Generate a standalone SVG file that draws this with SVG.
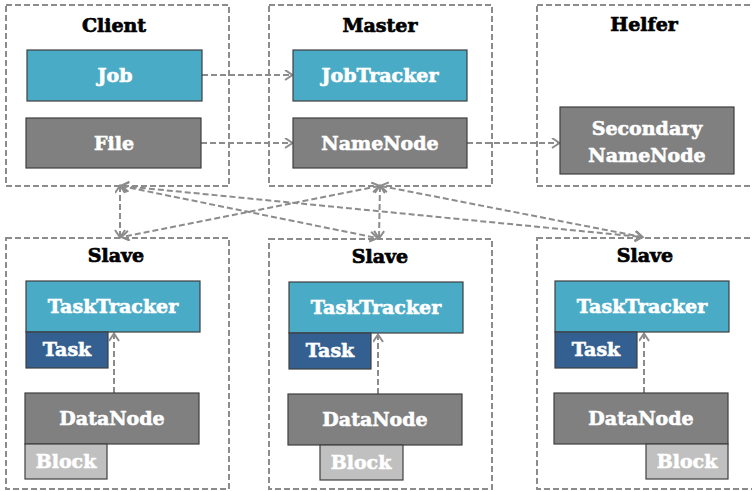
<svg xmlns="http://www.w3.org/2000/svg" width="752" height="491" viewBox="0 0 752 491">
  <style>
    .group { fill: none; stroke: #8c8c8c; stroke-width: 2; stroke-dasharray: 6 3; }
    .title { font-family: "DejaVu Serif", "Liberation Serif", serif; font-weight: bold; font-size: 19px; fill: #000; stroke: #000; stroke-width: 0.7; text-anchor: middle; }
    .node { stroke: #3f3f3f; stroke-width: 1.2; }
    .label { font-family: "DejaVu Serif", "Liberation Serif", serif; font-weight: bold; font-size: 19px; fill: #fff; stroke: #fff; stroke-width: 0.6; text-anchor: middle; }
    .teal { fill: #4aabc6; }
    .gray { fill: #808080; }
    .blue { fill: #346091; }
    .light { fill: #c0c0c0; }
    .link { fill: none; stroke: #8c8c8c; stroke-width: 2; stroke-dasharray: 6 3; }
  </style>
  <defs>
    <marker id="chev" markerUnits="userSpaceOnUse" markerWidth="12" markerHeight="12" refX="8" refY="5.5" orient="auto-start-reverse">
      <path d="M1,0.5 L8.5,5.5 L1,10.5" fill="none" stroke="#8c8c8c" stroke-width="2"/>
    </marker>
  </defs>
  <rect width="752" height="491" fill="#fff"/>

  <!-- dashed group frames -->
  <g id="client">
    <rect class="group" x="6" y="5" width="223" height="181"/>
    <text class="title" x="114" y="32">Client</text>
  </g>
  <g id="master">
    <rect class="group" x="269" y="5" width="223" height="181"/>
    <text class="title" x="380" y="32">Master</text>
  </g>
  <g id="helfer">
    <rect class="group" x="537" y="5" width="223" height="181"/>
    <text class="title" x="644" y="31">Helfer</text>
  </g>
  <g id="slave1">
    <rect class="group" x="6" y="238" width="223" height="251"/>
    <text class="title" x="116" y="262">Slave</text>
  </g>
  <g id="slave2">
    <rect class="group" x="269" y="239" width="223" height="250"/>
    <text class="title" x="380" y="263">Slave</text>
  </g>
  <g id="slave3">
    <rect class="group" x="537" y="238" width="223" height="251"/>
    <text class="title" x="645" y="262">Slave</text>
  </g>

  <!-- connectors -->
  <g id="connectors">
    <line class="link" x1="202" y1="75" x2="292" y2="75" marker-end="url(#chev)"/>
    <line class="link" x1="201" y1="143" x2="292" y2="143" marker-end="url(#chev)"/>
    <line class="link" x1="467" y1="143" x2="559" y2="143" marker-end="url(#chev)"/>

    <line class="link" x1="120" y1="186" x2="120" y2="237" marker-start="url(#chev)" marker-end="url(#chev)"/>
    <line class="link" x1="380" y1="186" x2="379" y2="238" marker-start="url(#chev)" marker-end="url(#chev)"/>
    <line class="link" x1="121" y1="186" x2="377" y2="238" marker-start="url(#chev)" marker-end="url(#chev)"/>
    <line class="link" x1="379" y1="186" x2="122" y2="237" marker-start="url(#chev)" marker-end="url(#chev)"/>
    <line class="link" x1="122" y1="186" x2="642" y2="237" marker-start="url(#chev)" marker-end="url(#chev)"/>
    <line class="link" x1="381" y1="186" x2="642" y2="237" marker-start="url(#chev)" marker-end="url(#chev)"/>

    <line class="link" x1="114" y1="393" x2="114" y2="334" marker-end="url(#chev)"/>
    <line class="link" x1="378" y1="394" x2="378" y2="335" marker-end="url(#chev)"/>
    <line class="link" x1="644" y1="393" x2="644" y2="334" marker-end="url(#chev)"/>
  </g>

  <!-- client nodes -->
  <g id="job">
    <rect class="node teal" x="27" y="50" width="175" height="51"/>
    <text class="label" x="115" y="82">Job</text>
  </g>
  <g id="file">
    <rect class="node gray" x="26" y="118" width="175" height="50"/>
    <text class="label" x="114" y="150">File</text>
  </g>

  <!-- master nodes -->
  <g id="jobtracker">
    <rect class="node teal" x="293" y="50" width="174" height="51"/>
    <text class="label" x="380" y="82">JobTracker</text>
  </g>
  <g id="namenode">
    <rect class="node gray" x="293" y="118" width="174" height="50"/>
    <text class="label" x="380" y="150">NameNode</text>
  </g>

  <!-- helper node -->
  <g id="secondary-namenode">
    <rect class="node gray" x="560" y="107" width="174" height="67"/>
    <text class="label" x="647" y="135">Secondary</text>
    <text class="label" x="647" y="162">NameNode</text>
  </g>

  <!-- slave 1 -->
  <g id="tasktracker1">
    <rect class="node teal" x="26" y="281" width="174" height="51"/>
    <text class="label" x="113" y="313">TaskTracker</text>
  </g>
  <g id="task1">
    <rect class="node blue" x="26" y="332" width="82" height="36"/>
    <text class="label" x="67" y="356">Task</text>
  </g>
  <g id="datanode1">
    <rect class="node gray" x="25" y="393" width="174" height="51"/>
    <text class="label" x="112" y="425">DataNode</text>
  </g>
  <g id="block1">
    <rect class="node light" x="25" y="444" width="82" height="35"/>
    <text class="label" x="66" y="468">Block</text>
  </g>

  <!-- slave 2 -->
  <g id="tasktracker2">
    <rect class="node teal" x="289" y="282" width="174" height="51"/>
    <text class="label" x="376" y="314">TaskTracker</text>
  </g>
  <g id="task2">
    <rect class="node blue" x="289" y="333" width="82" height="36"/>
    <text class="label" x="330" y="357">Task</text>
  </g>
  <g id="datanode2">
    <rect class="node gray" x="288" y="394" width="174" height="51"/>
    <text class="label" x="375" y="426">DataNode</text>
  </g>
  <g id="block2">
    <rect class="node light" x="320" y="445" width="83" height="35"/>
    <text class="label" x="361" y="469">Block</text>
  </g>

  <!-- slave 3 -->
  <g id="tasktracker3">
    <rect class="node teal" x="555" y="281" width="174" height="51"/>
    <text class="label" x="642" y="313">TaskTracker</text>
  </g>
  <g id="task3">
    <rect class="node blue" x="555" y="332" width="82" height="36"/>
    <text class="label" x="596" y="356">Task</text>
  </g>
  <g id="datanode3">
    <rect class="node gray" x="554" y="393" width="174" height="51"/>
    <text class="label" x="641" y="425">DataNode</text>
  </g>
  <g id="block3">
    <rect class="node light" x="646" y="444" width="82" height="35"/>
    <text class="label" x="687" y="468">Block</text>
  </g>
</svg>
